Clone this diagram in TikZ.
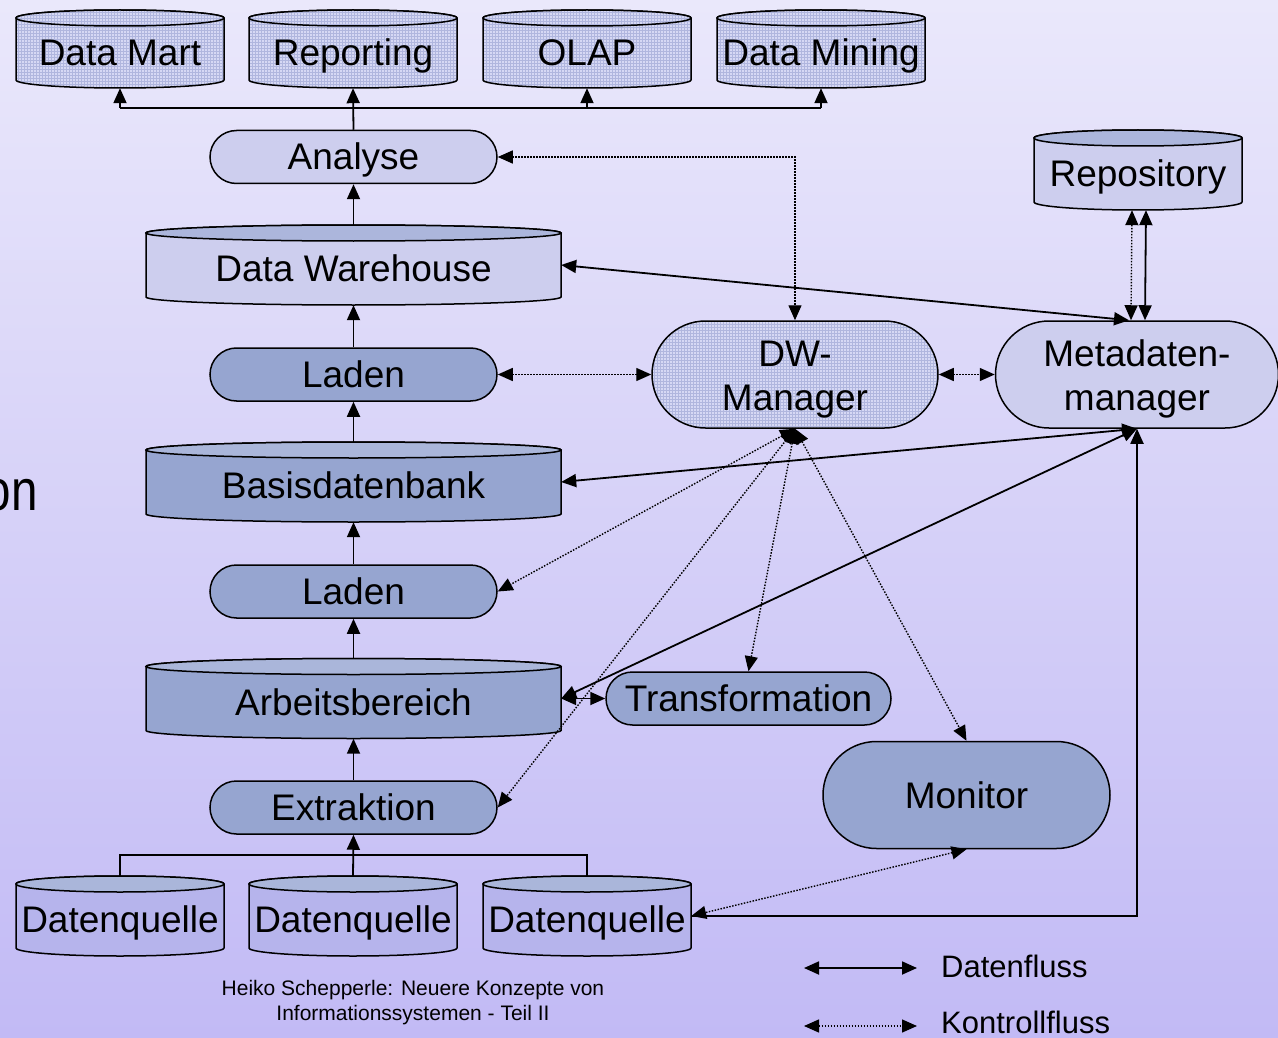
\documentclass[tikz,border=0pt]{standalone}
\usepackage{fontspec}
\setmainfont{Liberation Sans}
\usetikzlibrary{arrows.meta,shapes.misc,patterns}

\definecolor{bgtop}{RGB}{234,232,251}
\definecolor{bgbot}{RGB}{194,186,245}
\definecolor{lightfill}{RGB}{205,206,238}
\definecolor{lighttop}{RGB}{172,182,220}
\definecolor{darkfill}{RGB}{150,165,208}
\definecolor{darktop}{RGB}{170,182,218}
\definecolor{srcfill}{RGB}{182,180,236}
\definecolor{meshfill}{RGB}{214,216,244}
\definecolor{meshline}{RGB}{176,182,222}

% database cylinder: name, cx, cy, half width, half height, body style, top style, label
\newcommand\dbcyl[8]{%
  \path[#6] ({#2-#4},{#3-#5+8}) -- ({#2-#4},{#3+#5-8})
     arc[start angle=180,end angle=0,x radius=#4,y radius=8]
     -- ({#2+#4},{#3-#5+8})
     arc[start angle=0,end angle=-180,x radius=#4,y radius=8] -- cycle;
  \path[#7] (#2,{#3-#5+8}) ellipse[x radius=#4,y radius=8];
  \node[cyllabel,minimum width=2*#4pt,minimum height=2*#5pt] (#1) at (#2,#3) {#8};
}

\begin{document}
\begin{tikzpicture}[x=1pt,y=-1pt,
  every node/.style={font=\fontsize{37}{37}\selectfont, inner sep=0pt},
  tip/.tip={Triangle[length=15pt,width=13pt]},
  outline/.style={draw, line width=1.5pt},
  lightbody/.style={outline, fill=lightfill},
  lightcap/.style={outline, fill=lighttop},
  darkbody/.style={outline, fill=darkfill},
  darkcap/.style={outline, fill=darktop},
  srcbody/.style={outline, fill=srcfill},
  meshbody/.style={outline, preaction={fill=meshfill}, pattern=grid, pattern color=meshline},
  cyllabel/.style={rectangle, text height=33pt, text depth=0pt},
  procnode/.style={rounded rectangle, outline, minimum width=287pt, minimum height=53pt,
                   text height=26pt, text depth=0pt},
  bignode/.style={rounded rectangle, outline, minimum height=107pt},
  lightproc/.style={procnode, fill=lightfill},
  darkproc/.style={procnode, fill=darkfill},
  datalink/.style={line width=1.8pt, -tip},
  datalinkboth/.style={line width=1.8pt, tip-tip},
  ctrllink/.style={line width=1.4pt, dash pattern=on 1.5pt off 1.5pt, tip-tip},
  busline/.style={line width=1.8pt}
]
\useasboundingbox (0,0) rectangle (1278,1038);
\shade[top color=bgtop, bottom color=bgbot] (0,0) rectangle (1278,1038);

% fragment of slide text at the left edge
\node[anchor=base east, font=\fontsize{58}{60}\selectfont] (onfrag) at (38,510) {\scalebox{0.82}[1]{on}};

% analysis targets
\dbcyl{dmart}{120}{49}{104}{39}{meshbody}{meshbody}{Data Mart}
\dbcyl{rep}{353}{49}{104}{39}{meshbody}{meshbody}{Reporting}
\dbcyl{olap}{587}{49}{104}{39}{meshbody}{meshbody}{OLAP}
\dbcyl{dmine}{821}{49}{104}{39}{meshbody}{meshbody}{Data Mining}

% main processing column
\node[lightproc] (an) at (353.5,157) {Analyse};
\dbcyl{dwh}{353.5}{265}{207.5}{40}{lightbody}{lightcap}{Data Warehouse}
\node[darkproc] (lad1) at (353.5,374.5) {Laden};
\dbcyl{bdb}{353.5}{482}{207.5}{40}{darkbody}{darkcap}{Basisdatenbank}
\node[darkproc] (lad2) at (353.5,591.5) {Laden};
\dbcyl{arb}{353.5}{698.5}{207.5}{40}{darkbody}{darkcap}{Arbeitsbereich}
\node[darkproc] (extr) at (353.5,807.5) {Extraktion};

% data sources
\dbcyl{dq1}{120}{916}{104}{40}{srcbody}{darkcap}{Datenquelle}
\dbcyl{dq2}{353}{916}{104}{40}{srcbody}{darkcap}{Datenquelle}
\dbcyl{dq3}{587}{916}{104}{40}{srcbody}{darkcap}{Datenquelle}

% control components
\node[bignode, minimum width=286pt, preaction={fill=meshfill}, pattern=grid, pattern color=meshline] (dw) at (795,374.5) {};
\node[anchor=base] (dwlbl) at (795,366) {\begin{tabular}[t]{@{}c@{}}DW-\\[7pt]Manager\end{tabular}};
\node[bignode, minimum width=283pt, fill=lightfill] (meta) at (1137,374.5) {};
\node[anchor=base] (metalbl) at (1137,366) {\begin{tabular}[t]{@{}c@{}}Metadaten-\\[7pt]manager\end{tabular}};
\dbcyl{repo}{1138}{170}{104}{40}{lightbody}{lightcap}{Repository}
\node[darkproc, minimum width=285pt] (trans) at (748.5,698.5) {Transformation};
\node[bignode, minimum width=287pt, fill=darkfill,
      text height=27pt, text depth=0pt] (mon) at (966.5,795) {Monitor};

% data flow
\coordinate (bustop) at (0,108);
\draw[busline] (dmart.south |- bustop) -- (dmine.south |- bustop);
\draw[datalink] (an.north) -- (rep.south);
\foreach \t in {dmart,olap,dmine} \draw[datalink] (\t.south |- bustop) -- (\t.south);
\draw[datalink] (dwh.north) -- (an.south);
\draw[datalink] (lad1.north) -- (dwh.south);
\draw[datalink] (bdb.north) -- (lad1.south);
\draw[datalink] (lad2.north) -- (bdb.south);
\draw[datalink] (arb.north) -- (lad2.south);
\draw[datalink] (extr.north) -- (arb.south);
\coordinate (busbot) at (0,855);
\draw[busline] (dq1.north) -- (dq1.north |- busbot) -- (dq3.north |- busbot) -- (dq3.north);
\draw[datalink] (dq2.north) -- (extr.south);
\draw[datalinkboth] (dwh.east) -- ([xshift=-8pt]meta.north);
\draw[datalinkboth] ([xshift=8pt]repo.south) -- ([xshift=8pt]meta.north);
\draw[datalinkboth] (meta.south) -- (bdb.east);
\draw[datalinkboth] (meta.south) -- (arb.east);
\draw[datalinkboth] (arb.east) -- (trans.west);
\draw[datalink] (dq3.east) -| (meta.south);

% control flow
\draw[ctrllink] (an.east) -| (dw.north);
\draw[ctrllink] (lad1.east) -- (dw.west);
\draw[ctrllink] (dw.east) -- (meta.west);
\draw[ctrllink] ([xshift=-6pt]repo.south) -- ([xshift=-6pt]meta.north);
\draw[ctrllink] (dw.south) -- (lad2.east);
\draw[ctrllink] (dw.south) -- (extr.east);
\draw[ctrllink] (dw.south) -- (trans.north);
\draw[ctrllink] (dw.south) -- (mon.north);
\draw[ctrllink] (mon.south) -- (dq3.east);

% footer
\node[anchor=base, font=\fontsize{21}{25}\selectfont] (foot1) at (413,995) {Heiko Schepperle: Neuere Konzepte von};
\node[anchor=base, font=\fontsize{21}{25}\selectfont] (foot2) at (413,1020) {Informationssystemen - Teil II};

% legend
\coordinate (lg1a) at (804,968);
\coordinate (lg1b) at (917,968);
\coordinate (lg2a) at (804,1026);
\coordinate (lg2b) at (917,1026);
\draw[datalinkboth] (lg1a) -- (lg1b);
\draw[ctrllink] (lg2a) -- (lg2b);
\node[anchor=base west, font=\fontsize{31}{32}\selectfont] (lgd1) at (941,977) {Datenfluss};
\node[anchor=base west, font=\fontsize{31}{32}\selectfont] (lgd2) at (941,1033) {Kontrollfluss};
\end{tikzpicture}
\end{document}
